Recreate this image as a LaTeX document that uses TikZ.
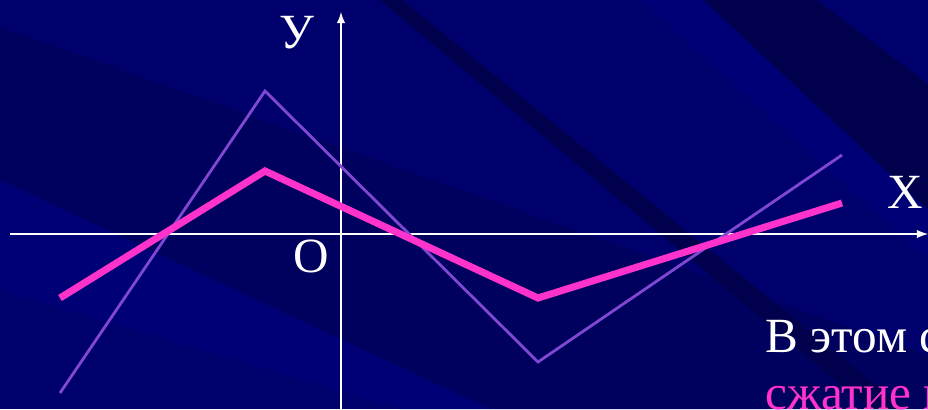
\documentclass[tikz,border=0pt]{standalone}
\usepackage{fontspec}
\setmainfont{Liberation Serif}
\definecolor{bgnavy}{RGB}{0,0,108}
\definecolor{bgdark}{RGB}{0,0,76}
\definecolor{bgshade}{RGB}{0,0,94}
\definecolor{bglight}{RGB}{0,0,118}
\definecolor{curvepurple}{RGB}{128,72,210}
\definecolor{curvepink}{RGB}{255,51,204}
\begin{document}
\begin{tikzpicture}[x=0.02cm, y=-0.02cm, every node/.style={font=\fontsize{28}{34}\selectfont, inner sep=0pt, anchor=base}]
\tikzset{
  axisline/.style={draw=white, line width=1.2pt, -latex},
  origline/.style={draw=curvepurple, line width=1.6pt},
  newline/.style={draw=curvepink, line width=4pt},
  lbl/.style={text=white}
}

% Background
\clip (0,0) rectangle (928,409);
\fill[bgnavy] (0,0) rectangle (928,409);
\fill[bgshade] (0,27) -- (928,355) -- (928,409) -- (490,409) -- (0,180) -- cycle;
\fill[bglight] (0,180) -- (490,409) -- (400,409) -- (0,290) -- cycle;
\fill[bgdark] (380,0) -- (402,0) -- (905,409) -- (870,409) -- cycle;
\fill[bgdark] (703,0) -- (817,0) -- (928,84) -- (928,210) -- cycle;
\fill[bglight] (640,0) -- (703,0) -- (928,210) -- (928,260) -- cycle;

% Axes
\coordinate (xstart) at (10,234);
\coordinate (xend) at (928,234);
\coordinate (ystart) at (341,409);
\coordinate (yend) at (341,12);
\draw[axisline] (xstart) -- (xend);
\draw[axisline] (ystart) -- (yend);

\node[lbl] (lblY) at (297,48) {У};
\node[lbl] (lblX) at (905,208) {Х};
\node[lbl] (lblO) at (311,272) {О};

% Original graph
\coordinate (pa) at (60,393);
\coordinate (pb) at (265,91);
\coordinate (pc) at (538,362);
\coordinate (pd) at (842,155);
\draw[origline] (pa) -- (pb) -- (pc) -- (pd);

% Compressed graph
\coordinate (qa) at (60,298);
\coordinate (qb) at (265,171);
\coordinate (qc) at (538,298);
\coordinate (qd) at (842,203);
\draw[newline] (qa) -- (qb) -- (qc) -- (qd);

% Caption
\node[lbl, anchor=base west] (txtA) at (765,352) {В этом с};
\node[text=curvepink, anchor=base west] (txtB) at (765,409) {сжатие к};

\end{tikzpicture}
\end{document}
